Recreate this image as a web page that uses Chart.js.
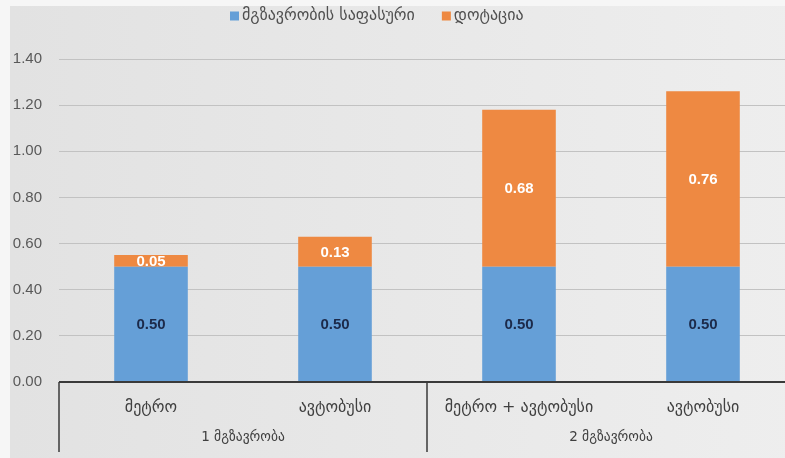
<!DOCTYPE html>
<html>
<head>
<meta charset="utf-8">
<script src="https://cdn.jsdelivr.net/npm/chart.js@4/dist/chart.umd.min.js"></script>
<style>
  html, body { margin: 0; padding: 0; overflow: hidden; background: #f6f6f6; }
  #wrap { width: 785px; height: 458px; overflow: hidden; }
</style>
</head>
<body>
<div id="wrap"><canvas id="c" width="800" height="458"></canvas></div>
<script>
// Categories along the x axis and the two trip groups beneath them
const categories = ['მეტრო', 'ავტობუსი', 'მეტრო + ავტობუსი', 'ავტობუსი'];
const groupLabels = ['1 მგზავრობა', '2 მგზავრობა'];
const groupSizes = [2, 2];

// Series
const seriesNames = ['მგზავრობის საფასური', 'დოტაცია'];
const fare = [0.50, 0.50, 0.50, 0.50];
const subsidy = [0.05, 0.13, 0.68, 0.76];

// Value axis
const yMin = 0, yMax = 1.4, yStep = 0.2;

const BLUE = '#659fd7';
const ORANGE = '#ee8942';
const GEO_FONT = '"DejaVu Sans", sans-serif';
const NUM_FONT = '"Liberation Sans", Arial, sans-serif';

const backdrop = {
  id: 'backdrop',
  beforeDraw(chart) {
    const { ctx, width, height } = chart;
    ctx.save();
    ctx.fillStyle = '#f6f6f6';
    ctx.fillRect(0, 0, width, height);
    const g = ctx.createLinearGradient(10, 0, width, 0);
    g.addColorStop(0, '#e2e2e2');
    g.addColorStop(1, '#eeeeee');
    ctx.fillStyle = g;
    ctx.fillRect(10, 6, width - 10, height - 6);
    ctx.restore();
  }
};

const legendDraw = {
  id: 'legendDraw',
  afterDraw(chart) {
    const { ctx } = chart;
    ctx.save();
    ctx.font = '16px ' + GEO_FONT;
    ctx.textBaseline = 'middle';
    ctx.textAlign = 'left';
    let x = 230;
    const y = 16;
    chart.data.datasets.forEach(ds => {
      ctx.fillStyle = ds.backgroundColor;
      ctx.fillRect(x, y - 4.5, 9, 9);
      ctx.fillStyle = '#505050';
      ctx.fillText(ds.label, x + 12, y);
      x += 12 + ctx.measureText(ds.label).width + 27;
    });
    ctx.restore();
  }
};

const valueLabels = {
  id: 'valueLabels',
  afterDatasetsDraw(chart) {
    const { ctx } = chart;
    ctx.save();
    ctx.font = 'bold 15px ' + NUM_FONT;
    ctx.textAlign = 'center';
    ctx.textBaseline = 'middle';
    chart.data.datasets.forEach((ds, di) => {
      const meta = chart.getDatasetMeta(di);
      meta.data.forEach((bar, i) => {
        const cy = (bar.y + bar.base) / 2;
        ctx.fillStyle = di === 0 ? '#1c2a4a' : '#ffffff';
        ctx.fillText(ds.data[i].toFixed(2), bar.x, cy + 1);
      });
    });
    ctx.restore();
  }
};

const groupedAxis = {
  id: 'groupedAxis',
  afterDraw(chart) {
    const { ctx, chartArea } = chart;
    const xs = chart.scales.x;
    const bottom = chartArea.bottom;
    const half = (xs.getPixelForValue(1) - xs.getPixelForValue(0)) / 2;
    ctx.save();
    // axis baseline
    ctx.strokeStyle = '#3a3a3a';
    ctx.lineWidth = 2;
    ctx.beginPath();
    ctx.moveTo(chartArea.left, bottom);
    ctx.lineTo(chart.width, bottom);
    ctx.stroke();
    // category labels
    ctx.font = '16px ' + GEO_FONT;
    ctx.fillStyle = '#404040';
    ctx.textAlign = 'center';
    ctx.textBaseline = 'middle';
    categories.forEach((c, i) => {
      ctx.fillText(c, xs.getPixelForValue(i), bottom + 26);
    });
    // group labels and dividers
    ctx.font = '13.5px ' + GEO_FONT;
    let start = 0;
    ctx.lineWidth = 1.5;
    groupLabels.forEach((g, gi) => {
      const end = start + groupSizes[gi] - 1;
      const left = xs.getPixelForValue(start) - half;
      const mid = (xs.getPixelForValue(start) + xs.getPixelForValue(end)) / 2;
      ctx.beginPath();
      ctx.moveTo(left, bottom);
      ctx.lineTo(left, bottom + 70);
      ctx.stroke();
      ctx.fillText(g, mid, bottom + 55);
      start = end + 1;
    });
    ctx.restore();
  }
};

new Chart(document.getElementById('c'), {
  type: 'bar',
  data: {
    labels: categories,
    datasets: [
      { label: seriesNames[0], data: fare, backgroundColor: BLUE },
      { label: seriesNames[1], data: subsidy, backgroundColor: ORANGE }
    ]
  },
  options: {
    responsive: false,
    animation: false,
    layout: { padding: { top: 59, right: 5, bottom: 76, left: 0 } },
    plugins: { legend: { display: false }, tooltip: { enabled: false } },
    datasets: { bar: { barPercentage: 0.4, categoryPercentage: 1.0 } },
    scales: {
      x: {
        stacked: true,
        grid: { display: false },
        border: { display: false },
        ticks: { display: false },
        afterFit(s) { s.height = 0; }
      },
      y: {
        stacked: true,
        min: yMin, max: yMax,
        border: { display: false },
        grid: { color: '#c2c2c2', lineWidth: 1, drawTicks: false },
        ticks: {
          stepSize: yStep,
          padding: 17,
          color: '#595959',
          font: { family: NUM_FONT, size: 15 },
          callback: v => v.toFixed(2)
        },
        afterFit(s) { s.width = 59; }
      }
    }
  },
  plugins: [backdrop, legendDraw, valueLabels, groupedAxis]
});
</script>
</body>
</html>
